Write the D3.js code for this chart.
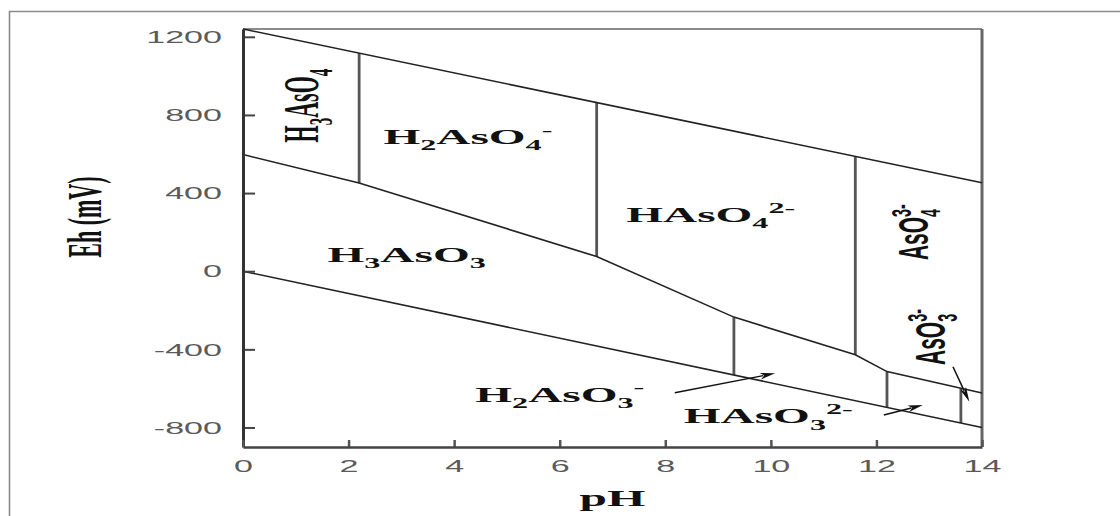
<!DOCTYPE html>
<html>
<head>
<meta charset="utf-8">
<script src="https://cdn.jsdelivr.net/npm/d3@7/dist/d3.min.js"></script>
<style>
  html, body { margin: 0; padding: 0; background: #fff; }
  svg { display: block; }
</style>
</head>
<body>
<svg id="chart" width="1120" height="516"></svg>
<script>
// ---------------- DATA ----------------
const PH_TICKS = [0, 2, 4, 6, 8, 10, 12, 14];
const EH_TICKS = [-800, -400, 0, 400, 800, 1200];

// boundaries as [pH, Eh (mV)]
const upperBoundary = [[0, 1240], [14, 453]];                       // O2 / H2O
const redoxBoundary = [[0, 597], [2.2, 452], [6.7, 75], [9.3, -235],
                       [11.6, -428], [12.2, -514], [14, -624]];     // As(V) / As(III)
const lowerBoundary = [[0, 0], [14, -800]];                          // H2O / H2

const arsenatePKa = [2.2, 6.7, 11.6];   // vertical lines between upper and redox boundary
const arsenitePKa = [9.3, 12.2, 13.6];  // vertical lines between redox and lower boundary

// species labels: parts [text, kind] kind: n normal, sub, sup, supStack (stacked over previous sub)
const labelH2AsO4 = [["H","n"],["2","sub"],["AsO","n"],["4","sub"],["-","sup"]];
const labelHAsO4  = [["HAsO","n"],["4","sub"],["2-","sup"]];
const labelH3AsO3 = [["H","n"],["3","sub"],["AsO","n"],["3","sub"]];
const labelH2AsO3 = [["H","n"],["2","sub"],["AsO","n"],["3","sub"],["-","sup"]];
const labelHAsO3  = [["HAsO","n"],["3","sub"],["2-","sup"]];
const labelH3AsO4 = [["H","n"],["3","sub"],["AsO","n"],["4","sub"]];
const labelAsO4   = [["AsO","n"],["4","sub"],["3-","supStack"]];
const labelAsO3   = [["AsO","n"],["3","sub"],["3-","supStack"]];

// pointer arrows [fromPH, fromEh, toPH, toEh]
const arrowH2AsO3 = [8.18, -622, 10.08, -523];
const arrowHAsO3  = [12.14, -736, 12.88, -685];
const arrowAsO3   = [13.45, -489, 13.76, -668];

// ---------------- DRAW ----------------
const SX = 2.15;   // horizontal stretch of the original picture
const svg = d3.select("#chart");
svg.append("rect").attr("width",1120).attr("height",516).attr("fill","#fff");

// outer frame (left + top)
svg.append("path").attr("d","M9.5,516 V11.5 H1120")
  .attr("fill","none").attr("stroke","#8a8a8a").attr("stroke-width",1.6);

const x = d3.scaleLinear().domain([0, 14]).range([243, 982]);
const y = d3.scaleLinear().domain([-900, 1240]).range([447, 29]);

function interp(line, ph) {
  for (let i = 0; i < line.length - 1; i++) {
    const [x0, y0] = line[i], [x1, y1] = line[i+1];
    if (ph >= x0 && ph <= x1) return y0 + (y1 - y0) * (ph - x0) / (x1 - x0);
  }
  return line[line.length-1][1];
}

// plot frame top and right
svg.append("line").attr("x1", x(0)).attr("x2", x(14)).attr("y1", y(1240)).attr("y2", y(1240))
  .attr("stroke","#666").attr("stroke-width",1.6);
svg.append("line").attr("x1", x(14)).attr("x2", x(14)).attr("y1", y(1240)).attr("y2", y(-900))
  .attr("stroke","#666").attr("stroke-width",3);

const lineGen = d3.line().x(d => x(d[0])).y(d => y(d[1]));

// vertical pKa lines
const vg = svg.append("g").attr("stroke","#555").attr("stroke-width",2.8);
arsenatePKa.forEach(p => {
  vg.append("line").attr("x1", x(p)).attr("x2", x(p))
    .attr("y1", y(interp(upperBoundary, p))).attr("y2", y(interp(redoxBoundary, p)));
});
arsenitePKa.forEach(p => {
  vg.append("line").attr("x1", x(p)).attr("x2", x(p))
    .attr("y1", y(interp(redoxBoundary, p))).attr("y2", y(interp(lowerBoundary, p)));
});

// boundary lines
[upperBoundary, redoxBoundary, lowerBoundary].forEach(l => {
  svg.append("path").attr("d", lineGen(l)).attr("fill","none")
    .attr("stroke","#222").attr("stroke-width",1.6);
});

// axes
const fmt = d => String(d);
const yAxis = svg.append("g").attr("transform", `translate(${x(0)},0)`)
  .call(d3.axisLeft(y).tickValues(EH_TICKS).tickSize(-12).tickSizeOuter(0).tickFormat(fmt));
yAxis.select(".domain").attr("stroke","#333").attr("stroke-width",3);
yAxis.selectAll(".tick line").attr("stroke","#444").attr("stroke-width",2);
yAxis.selectAll(".tick text")
  .attr("x",0).attr("dy","0.36em")
  .attr("transform",`translate(-21,0) scale(2.13,1)`)
  .attr("fill","#5a5a5a").style("font-family","'Liberation Sans', Arial, sans-serif")
  .style("font-size","16px");

const xAxis = svg.append("g").attr("transform", `translate(0,${y(-900)})`)
  .call(d3.axisBottom(x).tickValues(PH_TICKS).tickSize(-7).tickSizeOuter(0).tickFormat(fmt));
xAxis.select(".domain").attr("stroke","#444").attr("stroke-width",2.5);
xAxis.selectAll(".tick line").attr("stroke","#555").attr("stroke-width",2.5);
xAxis.selectAll(".tick text")
  .attr("y",0).attr("dy","0")
  .attr("transform",`translate(0,24.5) scale(2.13,1)`)
  .attr("fill","#5a5a5a").style("font-family","'Liberation Sans', Arial, sans-serif")
  .style("font-size","16px");
svg.selectAll(".domain").raise();

// chemistry text helper
const SERIF = "'Liberation Serif', 'Times New Roman', serif";
const SANS = "'Liberation Sans', Arial, sans-serif";
function chem(parent, parts, fs, family, anchor) {
  const t = parent.append("text").attr("x",0).attr("y",0)
    .attr("text-anchor", anchor || "start")
    .style("font-family", family).style("font-weight","bold")
    .style("font-size", fs + "px").attr("fill","#111");
  let cur = 0, lastSub = null;
  parts.forEach(([txt, kind]) => {
    let target = 0, size = fs;
    if (kind === "sub") { target = 0.28 * fs; size = 0.68 * fs; }
    if (kind === "sup" || kind === "supStack") { target = -0.42 * fs; size = 0.68 * fs; }
    const ts = t.append("tspan").text(txt).attr("dy", (target - cur)).style("font-size", size + "px");
    if (kind === "supStack" && lastSub) {
      const w = lastSub.node().getComputedTextLength();
      ts.attr("dx", -w);
    }
    if (kind === "sub") lastSub = ts;
    cur = target;
  });
  return t;
}
function hLabel(parts, ph, eh, fs, family, anchor) {
  const g = svg.append("g").attr("transform", `translate(${x(ph)},${y(eh)}) scale(${SX},1)`);
  return chem(g, parts, fs, family, anchor);
}
function vLabel(parts, ph, eh, fs, family, sx, anchor) {
  const g = svg.append("g").attr("transform", `translate(${x(ph)},${y(eh)}) scale(${sx},1) rotate(-90)`);
  return chem(g, parts, fs, family, anchor);
}

// horizontal species labels
hLabel(labelH2AsO4, 2.66, 651, 22, SERIF);
hLabel(labelHAsO4, 7.26, 253, 22, SERIF);
hLabel(labelH3AsO3, 1.60, 49, 22, SERIF);
hLabel(labelH2AsO3, 4.40, -668, 22, SERIF);
hLabel(labelHAsO3, 8.35, -779, 22, SERIF);

// rotated species labels
vLabel(labelH3AsO4, 1.42, 848, 22, SERIF, 2.3, "middle");
vLabel(labelAsO4, 12.98, 57, 21, SANS, 2.0, "start");
vLabel(labelAsO3, 13.30, -480, 21, SANS, 2.0, "start");

// axis titles
vLabel([["Eh (mV)","n"]], -2.69, 277, 22, SERIF, 2.2, "middle");
hLabel([["pH","n"]], 7.0, -1200, 23, SERIF, "middle");

// arrows
function arrow(a) {
  const x0 = x(a[0]), y0 = y(a[1]), x1 = x(a[2]), y1 = y(a[3]);
  const dx = x1 - x0, dy = y1 - y0, L = Math.hypot(dx, dy);
  const ux = dx / L, uy = dy / L, hl = 15, hw = 3.3;
  const bx = x1 - ux * hl, by = y1 - uy * hl;
  svg.append("line").attr("x1", x0).attr("y1", y0).attr("x2", bx + ux*3).attr("y2", by + uy*3)
    .attr("stroke","#111").attr("stroke-width",1.5);
  svg.append("path")
    .attr("d", `M${x1},${y1} L${bx - uy*hw},${by + ux*hw} L${bx + ux*4},${by + uy*4} L${bx + uy*hw},${by - ux*hw} Z`)
    .attr("fill","#111");
}
arrow(arrowH2AsO3);
arrow(arrowHAsO3);
arrow(arrowAsO3);
</script>
</body>
</html>
